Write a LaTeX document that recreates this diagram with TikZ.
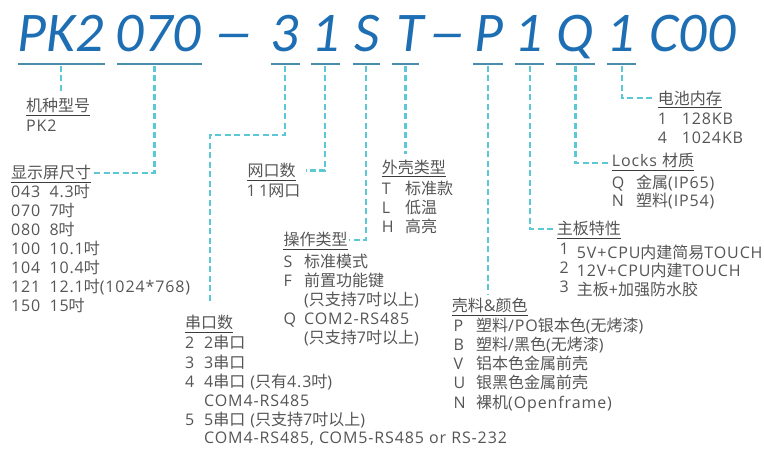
\documentclass[tikz,border=0pt]{standalone}
\usepackage{fontspec}
\newfontfamily\hdrfont{Carlito}
\newfontfamily\bodyfont{Open Sans}[LetterSpace=5.5]
\newfontfamily\zhfont{Noto Sans CJK SC}
\newcommand{\zh}[1]{{\zhfont #1}}
\definecolor{hdrblue}{RGB}{30,110,180}
\definecolor{barcol}{RGB}{74,141,170}
\definecolor{dashcol}{RGB}{92,200,214}
\definecolor{txtcol}{RGB}{85,85,85}
\definecolor{linecol}{RGB}{60,60,60}
\tikzset{
  hdr/.style={font=\hdrfont\fontsize{56}{60}\selectfont\itshape, text=hdrblue, anchor=base, inner sep=0pt},
  bar/.style={fill=barcol, minimum height=2.8pt, inner sep=0pt, draw=none},
  conn/.style={draw=dashcol, line width=2.2pt, dash pattern=on 6pt off 3.5pt},
  txt/.style={font=\bodyfont\fontsize{16}{19}\selectfont, text=txtcol, anchor=base west, inner sep=0pt},
  uline/.style={draw=linecol, line width=0.9pt},
}
\begin{document}
\begin{tikzpicture}[x=1pt,y=-1pt]
\useasboundingbox (0,0) rectangle (764,448);
% header code
\node[hdr] (hPK) at (61,51) {PK2};
\node[hdr] (h070) at (158.5,51) {070};
\node[hdr] (hd1) at (234,51) {\scalebox{1.45}[1]{–}};
\node[hdr] (h3) at (284.5,51) {3};
\node[hdr] (h1a) at (326,51) {1};
\node[hdr] (hS) at (367,51) {S};
\node[hdr] (hT) at (410,51) {T};
\node[hdr] (hd2) at (447,51) {\scalebox{1.35}[1]{–}};
\node[hdr] (hP) at (489,51) {P};
\node[hdr] (h1b) at (528.5,51) {1};
\node[hdr] (hQ) at (575.5,51) {Q};
\node[hdr] (h1c) at (621,51) {1};
\node[hdr] (hC) at (692.5,51) {C00};
% header bars
\node[bar, minimum width=87pt] (u1) at (61,64) {};
\node[bar, minimum width=85pt] (u2) at (159.5,64) {};
\node[bar, minimum width=29pt] (u3) at (285,64) {};
\node[bar, minimum width=29pt] (u4) at (325,64) {};
\node[bar, minimum width=27pt] (u5) at (366,64) {};
\node[bar, minimum width=27pt] (u6) at (405.5,64) {};
\node[bar, minimum width=30pt] (u7) at (488.3,64) {};
\node[bar, minimum width=29pt] (u8) at (529.8,64) {};
\node[bar, minimum width=39pt] (u9) at (575.5,64) {};
\node[bar, minimum width=29pt] (u10) at (621.8,64) {};
% block 1
\node[txt] (L1) at (26,111.5) {\zh{机种型号}};
\node[txt] (a1r1) at (26,131) {PK2};
% block 2
\node[txt] (L2) at (11,178.8) {\zh{显示屏尺寸}};
\node[txt] (a2r1) at (11,197.5) {043};
\node[txt] (b2r1) at (49.3,197.5) {4.3\zh{吋}};
\node[txt] (a2r2) at (11,216.5) {070};
\node[txt] (b2r2) at (49.3,216.5) {7\zh{吋}};
\node[txt] (a2r3) at (11,235.5) {080};
\node[txt] (b2r3) at (49.3,235.5) {8\zh{吋}};
\node[txt] (a2r4) at (11,254.5) {100};
\node[txt] (b2r4) at (49.3,254.5) {10.1\zh{吋}};
\node[txt] (a2r5) at (11,273.5) {104};
\node[txt] (b2r5) at (49.3,273.5) {10.4\zh{吋}};
\node[txt] (a2r6) at (11,292.5) {121};
\node[txt] (b2r6) at (49.3,292.5) {12.1\zh{吋}(1024*768)};
\node[txt] (a2r7) at (11,311.5) {150};
\node[txt] (b2r7) at (49.3,311.5) {15\zh{吋}};
% block 3
\node[txt] (L3) at (185,328.8) {\zh{串口数}};
\node[txt] (a3r1) at (185,348.3) {2};
\node[txt] (b3r1) at (204,348.3) {2\zh{串口}};
\node[txt] (a3r2) at (185,368.3) {3};
\node[txt] (b3r2) at (204,368.3) {3\zh{串口}};
\node[txt] (a3r3) at (185,387.7) {4};
\node[txt] (b3r3) at (204,387.7) {4\zh{串口} (\zh{只有}4.3\zh{吋})};
\node[txt] (b3r4) at (204,406.7) {COM4-RS485};
\node[txt] (a3r5) at (185,425.7) {5};
\node[txt] (b3r5) at (204,425.7) {5\zh{串口} (\zh{只支持}7\zh{吋以上})};
\node[txt] (b3r6) at (204,443.3) {COM4-RS485, COM5-RS485 or RS-232};
% block 4
\node[txt] (L4) at (247.3,176.5) {\zh{网口数}};
\node[txt] (a4r1) at (246.5,196) {1};
\node[txt] (b4r1) at (259,196) {1\zh{网口}};
% block 5
\node[txt] (L5) at (283.3,245.8) {\zh{操作类型}};
\node[txt] (a5r1) at (283.3,267.5) {S};
\node[txt] (b5r1) at (304,267.5) {\zh{标准模式}};
\node[txt] (a5r2) at (283.3,286.5) {F};
\node[txt] (b5r2) at (304,286.5) {\zh{前置功能键}};
\node[txt] (b5r3) at (304,305.5) {(\zh{只支持}7\zh{吋以上})};
\node[txt] (a5r4) at (283.3,324.5) {Q};
\node[txt] (b5r4) at (304,324.5) {COM2-RS485};
\node[txt] (b5r5) at (304,343.5) {(\zh{只支持}7\zh{吋以上})};
% block 6
\node[txt] (L6) at (381.7,173.2) {\zh{外壳类型}};
\node[txt] (a6r1) at (381.7,194.5) {T};
\node[txt] (b6r1) at (405,194.5) {\zh{标准款}};
\node[txt] (a6r2) at (381.7,213.5) {L};
\node[txt] (b6r2) at (405,213.5) {\zh{低温}};
\node[txt] (a6r3) at (381.7,232.5) {H};
\node[txt] (b6r3) at (405,232.5) {\zh{高亮}};
% block 7
\node[txt] (L7) at (451.7,311.5) {\zh{壳料}\&\zh{颜色}};
\node[txt] (a7r1) at (453.3,331) {P};
\node[txt] (b7r1) at (476,331) {\zh{塑料}/PO\zh{银本色}(\zh{无烤漆})};
\node[txt] (a7r2) at (453.3,350.3) {B};
\node[txt] (b7r2) at (476,350.3) {\zh{塑料}/\zh{黑色}(\zh{无烤漆})};
\node[txt] (a7r3) at (453.3,369.6) {V};
\node[txt] (b7r3) at (476,369.6) {\zh{铝本色金属前壳}};
\node[txt] (a7r4) at (453.3,388.9) {U};
\node[txt] (b7r4) at (476,388.9) {\zh{银黑色金属前壳}};
\node[txt] (a7r5) at (453.3,408.2) {N};
\node[txt] (b7r5) at (476,408.2) {\zh{裸机}(Openframe)};
% block 8
\node[txt] (L8) at (556.7,234.8) {\zh{主板特性}};
\node[txt] (a8r1) at (559.3,254.3) {1};
\node[txt] (b8r1) at (576.7,258.3) {5V+CPU\zh{内建简易}TOUCH};
\node[txt] (a8r2) at (559.3,273) {2};
\node[txt] (b8r2) at (576.7,276.7) {12V+CPU\zh{内建}TOUCH};
\node[txt] (a8r3) at (559.3,292) {3};
\node[txt] (b8r3) at (576.7,295.5) {\zh{主板}+\zh{加强防水胶}};
% block 9
\node[txt] (L9) at (611.7,166.5) {Locks \zh{材质}};
\node[txt] (a9r1) at (611.7,188.3) {Q};
\node[txt] (b9r1) at (636,188.3) {\zh{金属}(IP65)};
\node[txt] (a9r2) at (611.7,206.5) {N};
\node[txt] (b9r2) at (636,206.5) {\zh{塑料}(IP54)};
% block 10
\node[txt] (L10) at (657.7,104.2) {\zh{电池内存}};
\node[txt] (a10r1) at (657.7,124.3) {1};
\node[txt] (b10r1) at (681.7,124.3) {128KB};
\node[txt] (a10r2) at (657.7,143.3) {4};
\node[txt] (b10r2) at (681.7,143.3) {1024KB};
% label underlines
\foreach \n in {L1,L2,L3,L4,L5,L6,L7,L8,L9,L10}
  \draw[uline] ([yshift=-3.5pt]\n.base west) -- ([yshift=-3.5pt]\n.base east);
% connectors
\coordinate (e1) at (61,92);
\draw[conn] (u1.south) -- (e1);
\draw[conn] ([xshift=-5pt]u2.south) |- ([xshift=1pt]L2.east);
\coordinate (k3) at (210,135);
\coordinate (e3) at (210,302);
\draw[conn] (u3.south) |- (k3) -- (e3);
\draw[conn] (u4.south) |- ([xshift=10pt]L4.east);
\draw[conn] (u5.south) |- ([xshift=1pt]L5.east);
\coordinate (e6) at (405.5,154);
\draw[conn] (u6.south) -- (e6);
\coordinate (e7) at (488.3,295);
\draw[conn] (u7.south) -- (e7);
\draw[conn] (u8.south) |- ([xshift=-3pt]L8.west);
\draw[conn] (u9.south) |- ([xshift=-1.5pt,yshift=-2.5pt]L9.west);
\draw[conn] (u10.south) |- ([xshift=-4pt]L10.west);
\end{tikzpicture}
\end{document}
